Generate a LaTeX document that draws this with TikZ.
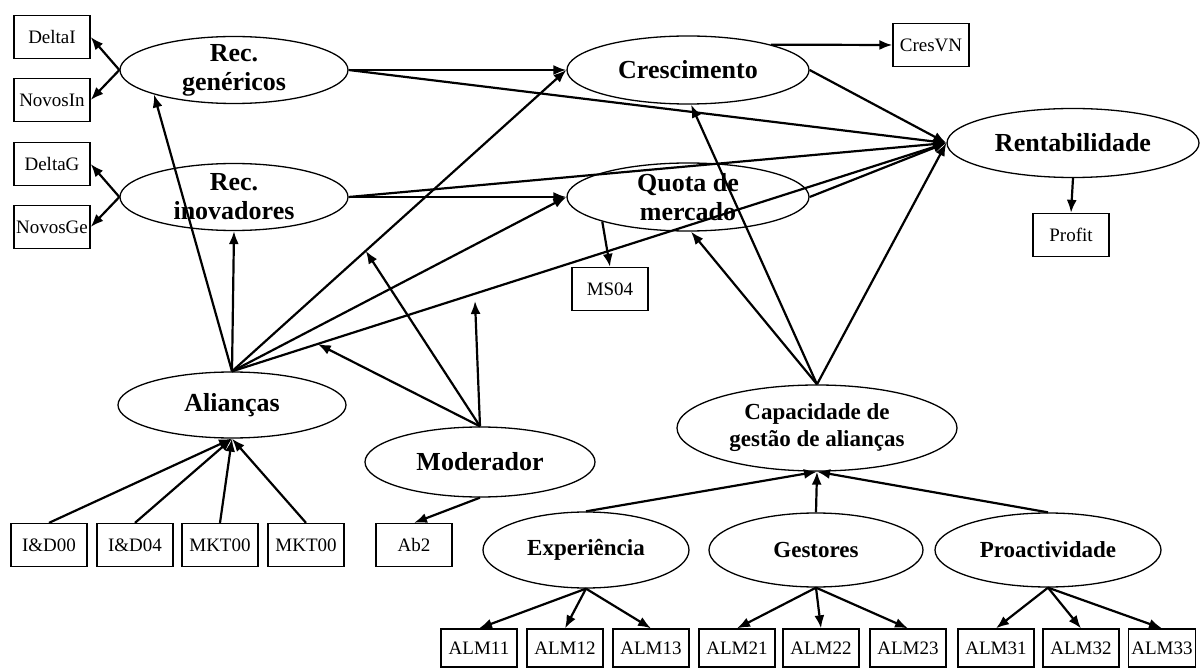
\documentclass[tikz,border=0pt]{standalone}
\usepackage{fontspec}
\setmainfont{Liberation Serif}
\usetikzlibrary{shapes.geometric,arrows.meta,calc}

\begin{document}
\begin{tikzpicture}[x=1pt,y=-1pt,
  >={Latex[length=13pt,width=10pt]},
  lat/.style={ellipse,draw,line width=1.3pt,inner sep=0pt,align=center,
    font=\fontsize{26}{29}\selectfont\bfseries},
  lat2/.style={lat,inner ysep=-5pt},
  latp/.style={lat,font=\fontsize{23}{27}\selectfont\bfseries},
  ind/.style={rectangle,draw,line width=1.3pt,minimum width=76pt,minimum height=43pt,
    inner sep=1pt,font=\fontsize{19}{21}\selectfont},
  seta/.style={->,line width=2.2pt}]
\useasboundingbox (0,0) rectangle (1200,668);
%Indicadores dos recursos
\node[ind] (deltai) at (52,37) {DeltaI};
\node[ind] (novosin) at (52,100) {NovosIn};
\node[ind] (deltag) at (52,164) {DeltaG};
\node[ind] (novosge) at (52,227) {NovosGe};
%Variaveis latentes
\node[lat2,minimum width=228pt,minimum height=67pt] (gen) at (234,70) {Rec.\\genéricos};
\node[lat2,minimum width=228pt,minimum height=67pt] (inov) at (234,197) {Rec.\\inovadores};
\node[lat,minimum width=242pt,minimum height=68pt] (cresc) at (688,70) {Crescimento};
\node[lat2,minimum width=242pt,minimum height=68pt] (quota) at (688,197) {Quota de\\mercado};
\node[lat,minimum width=252pt,minimum height=69pt] (rent) at (1073,143) {Rentabilidade};
\node[lat,minimum width=228pt,minimum height=66pt] (alianc) at (232,405) {Alianças};
\node[lat,minimum width=230pt,minimum height=70pt] (moder) at (480,462) {Moderador};
\node[latp,minimum width=280pt,minimum height=86pt] (capac) at (817,428) {Capacidade de\\gestão de alianças};
\node[latp,minimum width=206pt,minimum height=76pt] (exper) at (586,550) {Experiência};
\node[latp,minimum width=214pt,minimum height=74pt] (gest) at (816,550) {Gestores};
\node[latp,minimum width=226pt,minimum height=74pt] (proac) at (1048,550) {Proactividade};
%Indicadores dos resultados
\node[ind] (cresvn) at (931,45) {CresVN};
\node[ind] (profit) at (1071,235) {Profit};
\node[ind] (ms04) at (610,289) {MS04};
\node[ind] (id00) at (49,545) {I\&D00};
\node[ind] (id04) at (135,545) {I\&D04};
\node[ind] (mkta) at (220,545) {MKT00};
\node[ind] (mktb) at (306,545) {MKT00};
\node[ind] (ab2) at (414,545) {Ab2};
\foreach \n/\x in {11/479,12/565,13/651,21/737,22/821,23/908,31/996,32/1081}
  \node[ind,minimum height=38pt] (alm\n) at (\x,648) {ALM\n};
\node[ind,minimum height=38pt,minimum width=67pt] (alm33) at (1162,648) {ALM33};
%Setas de medida
\foreach \b in {deltai,novosin} \draw[seta] (gen.west) -- (\b.east);
\foreach \b in {deltag,novosge} \draw[seta] (inov.west) -- (\b.east);
\foreach \b in {id00,id04,mkta,mktb} \draw[seta] (\b.north) -- (alianc.south);
\draw[seta] (cresc.17) -- (cresvn.west);
\draw[seta] (rent.south) -- (profit.north);
\draw[seta] (quota.196) -- (ms04.north);
\draw[seta] (moder.south) -- (ab2.north);
\foreach \n in {11,12,13} \draw[seta] (exper.south) -- (alm\n.north);
\foreach \n in {21,22,23} \draw[seta] (gest.south) -- (alm\n.north);
\foreach \n in {31,32,33} \draw[seta] (proac.south) -- (alm\n.north);
%Relacoes estruturais
\draw[seta] (gen.east) -- (cresc.west);
\draw[seta] (gen.east) -- (rent.west);
\draw[seta] (inov.east) -- (quota.west);
\draw[seta] (inov.east) -- (rent.west);
\draw[seta] (cresc.east) -- (rent.west);
\draw[seta] (quota.east) -- (rent.west);
\draw[seta] (alianc.north) -- (gen.197);
\draw[seta] (alianc.north) -- (inov.south);
\draw[seta] (alianc.north) -- (cresc.west);
\draw[seta] (alianc.north) -- (quota.west);
\draw[seta] (alianc.north) -- (rent.west);
\draw[seta] (capac.north) -- (cresc.275);
\draw[seta] (capac.north) -- (quota.275);
\draw[seta] (capac.north) -- (rent.west);
\foreach \b in {exper,gest,proac} \draw[seta] (\b.north) -- (capac.south);
%Efeitos do moderador
\coordinate (m1) at ($(alianc.north)!0.4!(cresc.west)$);
\coordinate (m2) at ($(alianc.north)!0.12!(rent.west)$);
\coordinate (m3) at (475,301);
\foreach \c in {m1,m2,m3} \draw[seta] (moder.north) -- (\c);
\end{tikzpicture}
\end{document}
